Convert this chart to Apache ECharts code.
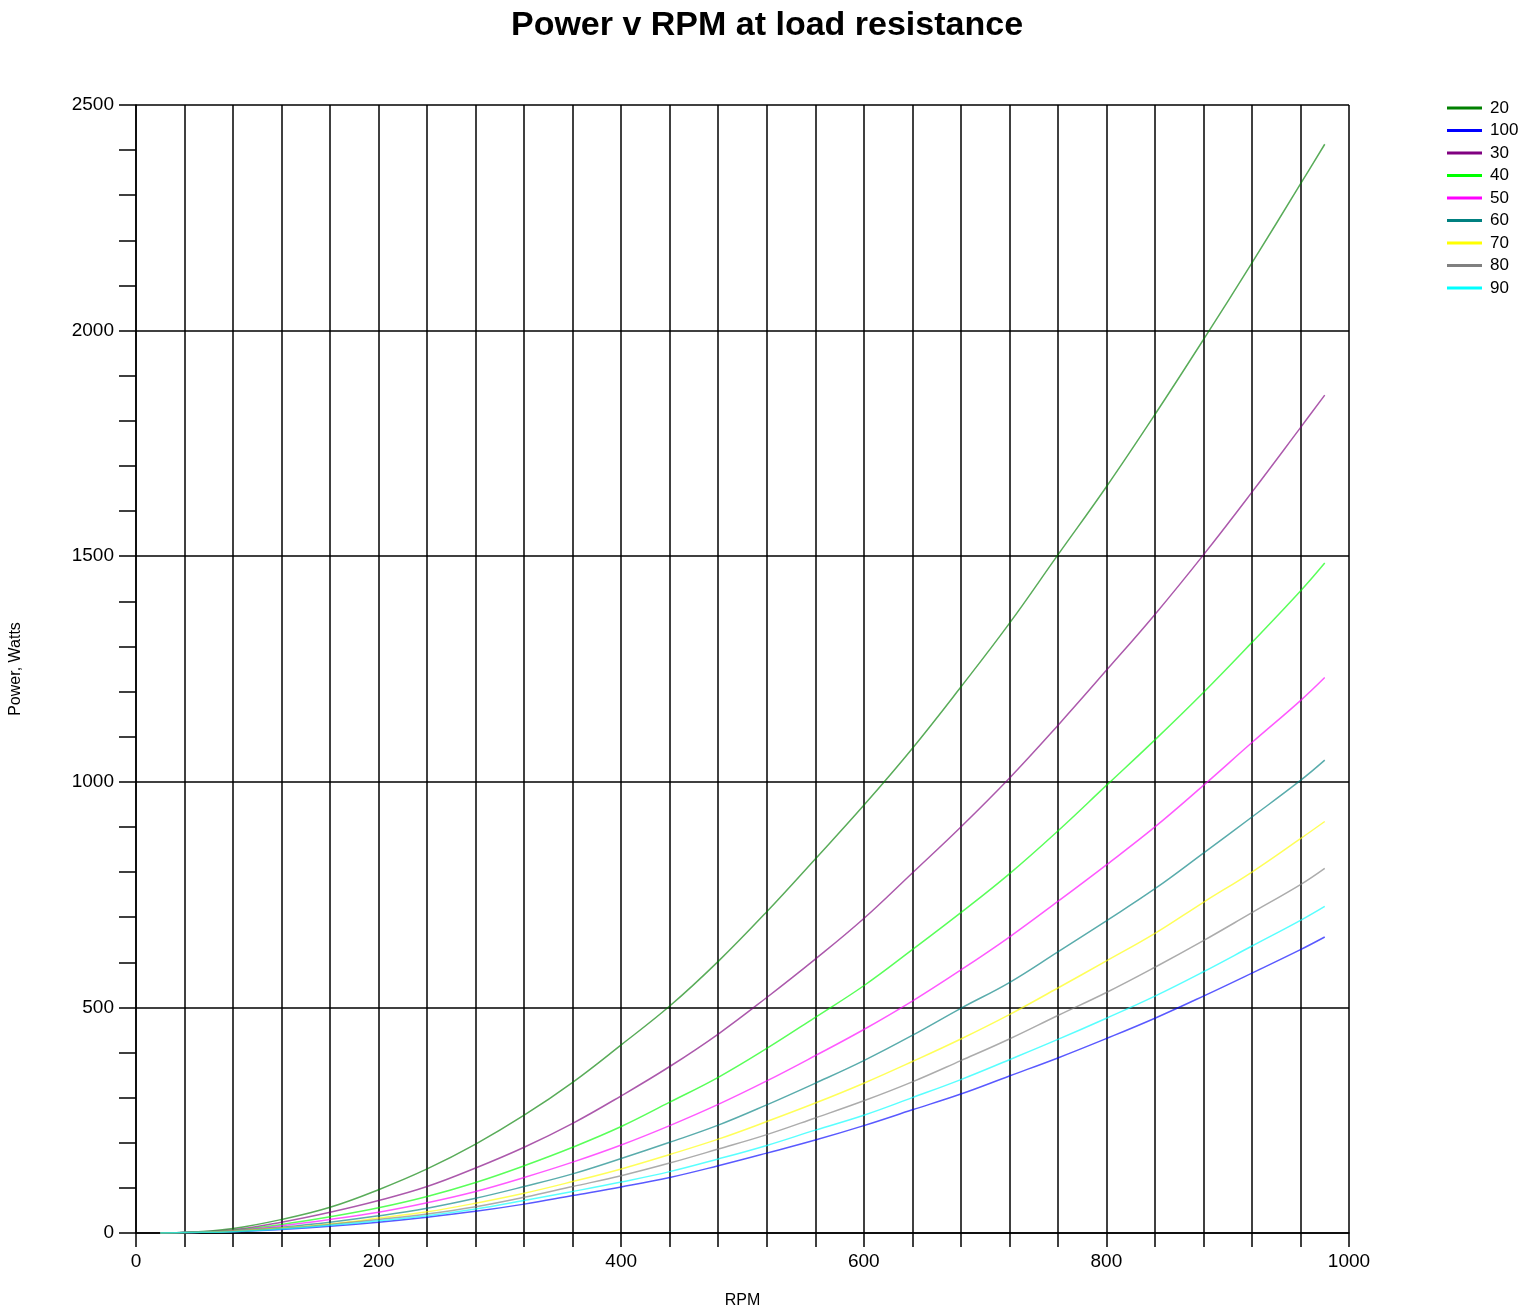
<!DOCTYPE html>
<html>
<head>
<meta charset="utf-8">
<script src="https://cdn.jsdelivr.net/npm/echarts@6/dist/echarts.min.js"></script>
<style>
  html, body { margin: 0; padding: 0; background: #fff; }
  #chart { width: 1534px; height: 1314px; }
</style>
</head>
<body>
<div id="chart"></div>
<script>
// RPM sample points
const rpm = [20, 40, 80, 120, 160, 200, 240, 280, 320, 360, 400, 440, 480, 520, 560, 600, 640, 680, 720, 760, 800, 840, 880, 920, 960, 980];

// Power (W) per load resistance
const p20  = [0, 1, 10, 30, 57, 96, 142, 197, 261, 334, 417, 503, 602, 712, 829, 948, 1074, 1210, 1351, 1503, 1654, 1814, 1980, 2150, 2325, 2413];
const p30  = [0, 1, 7, 24, 46, 72, 103, 144, 190, 243, 304, 369, 441, 522, 607, 697, 798, 900, 1008, 1125, 1247, 1371, 1503, 1642, 1785, 1857];
const p40  = [0, 1, 6, 19, 36, 56, 81, 112, 149, 190, 236, 290, 345, 409, 478, 548, 628, 710, 796, 891, 992, 1093, 1198, 1309, 1423, 1485];
const p50  = [0, 1, 5, 16, 30, 46, 67, 92, 123, 157, 195, 238, 285, 337, 393, 451, 514, 583, 656, 735, 816, 900, 992, 1087, 1180, 1231];
const p60  = [0, 1, 4, 13, 24, 38, 55, 77, 103, 131, 165, 201, 239, 284, 332, 382, 438, 498, 555, 623, 692, 763, 842, 922, 1003, 1048];
const p70  = [0, 1, 4, 11, 20, 33, 47, 66, 88, 114, 142, 174, 208, 247, 288, 332, 380, 430, 484, 543, 603, 664, 733, 800, 874, 912];
const p80  = [0, 1, 3, 10, 19, 30, 42, 58, 79, 103, 127, 155, 186, 218, 255, 293, 335, 382, 430, 482, 533, 589, 648, 710, 772, 808];
const p90  = [0, 1, 3, 9, 17, 27, 38, 53, 72, 92, 113, 136, 164, 194, 228, 261, 300, 340, 384, 429, 476, 525, 579, 636, 693, 724];
const p100 = [0, 1, 3, 8, 15, 24, 35, 48, 64, 83, 102, 123, 149, 177, 206, 238, 273, 308, 348, 388, 431, 476, 525, 576, 628, 656];

// Legend order as in the reference
const seriesNames = ['20', '100', '30', '40', '50', '60', '70', '80', '90'];
const seriesValues = [p20, p100, p30, p40, p50, p60, p70, p80, p90];
const seriesColors = ['#008000', '#0000FF', '#800080', '#00FF00', '#FF00FF', '#008080', '#FFFF00', '#808080', '#00FFFF'];

const xTickLabels = [0, 200, 400, 600, 800, 1000];
const yTickLabels = [0, 500, 1000, 1500, 2000, 2500];

const FONT = 'Liberation Sans, Arial, sans-serif';

const chart = echarts.init(document.getElementById('chart'), null, { renderer: 'canvas' });

const series = seriesNames.map((name, i) => ({
  name: name,
  type: 'line',
  data: rpm.map((r, j) => [r, seriesValues[i][j]]),
  showSymbol: false,
  symbol: 'none',
  smooth: 0.4,
  color: seriesColors[i],
  lineStyle: { color: seriesColors[i], width: 1.5, opacity: 0.65 },
  emphasis: { disabled: true },
  z: 3
}));

chart.setOption({
  animation: false,
  backgroundColor: '#fff',
  title: {
    text: 'Power v RPM at load resistance',
    left: 'center',
    top: 4,
    textStyle: { fontFamily: FONT, fontSize: 34, fontWeight: 'bold', color: '#000' }
  },
  legend: {
    orient: 'vertical',
    left: 1442,
    top: 94,
    icon: 'rect',
    itemWidth: 35,
    itemHeight: 3,
    itemGap: 4.5,
    textStyle: { fontFamily: FONT, fontSize: 17, color: '#000', lineHeight: 18, padding: [0, 0, 0, 3] },
    data: seriesNames
  },
  grid: { left: 133, right: 185, top: 105, bottom: 81, containLabel: false },
  xAxis: {
    type: 'value',
    min: 0,
    max: 1000,
    interval: 40,
    name: 'RPM',
    nameLocation: 'middle',
    nameGap: 60,
    nameTextStyle: { fontFamily: FONT, fontSize: 16, color: '#000' },
    axisLine: { show: true, lineStyle: { color: '#000', width: 1.5 } },
    axisTick: { show: true, length: 14, lineStyle: { color: '#000', width: 1.5 } },
    axisLabel: {
      fontFamily: FONT, fontSize: 19, color: '#000', margin: 19,
      formatter: v => (xTickLabels.indexOf(v) >= 0 ? String(v) : '')
    },
    splitLine: { show: true, lineStyle: { color: '#000', width: 1.5 } }
  },
  yAxis: {
    type: 'value',
    min: 0,
    max: 2500,
    interval: 500,
    name: 'Power, Watts',
    nameLocation: 'middle',
    nameRotate: 90,
    nameGap: 112,
    nameTextStyle: { fontFamily: FONT, fontSize: 16, color: '#000' },
    axisLine: { show: true, lineStyle: { color: '#000', width: 1.5 } },
    axisTick: { show: true, length: 17, lineStyle: { color: '#000', width: 1.5 } },
    minorTick: { show: true, splitNumber: 5, length: 17, lineStyle: { color: '#000', width: 1.5 } },
    minorSplitLine: { show: false },
    axisLabel: {
      fontFamily: FONT, fontSize: 19, color: '#000', margin: 22,
      formatter: v => (yTickLabels.indexOf(v) >= 0 ? String(v) : '')
    },
    splitLine: { show: true, lineStyle: { color: '#000', width: 1.5 } }
  },
  series: series
});
</script>
</body>
</html>
